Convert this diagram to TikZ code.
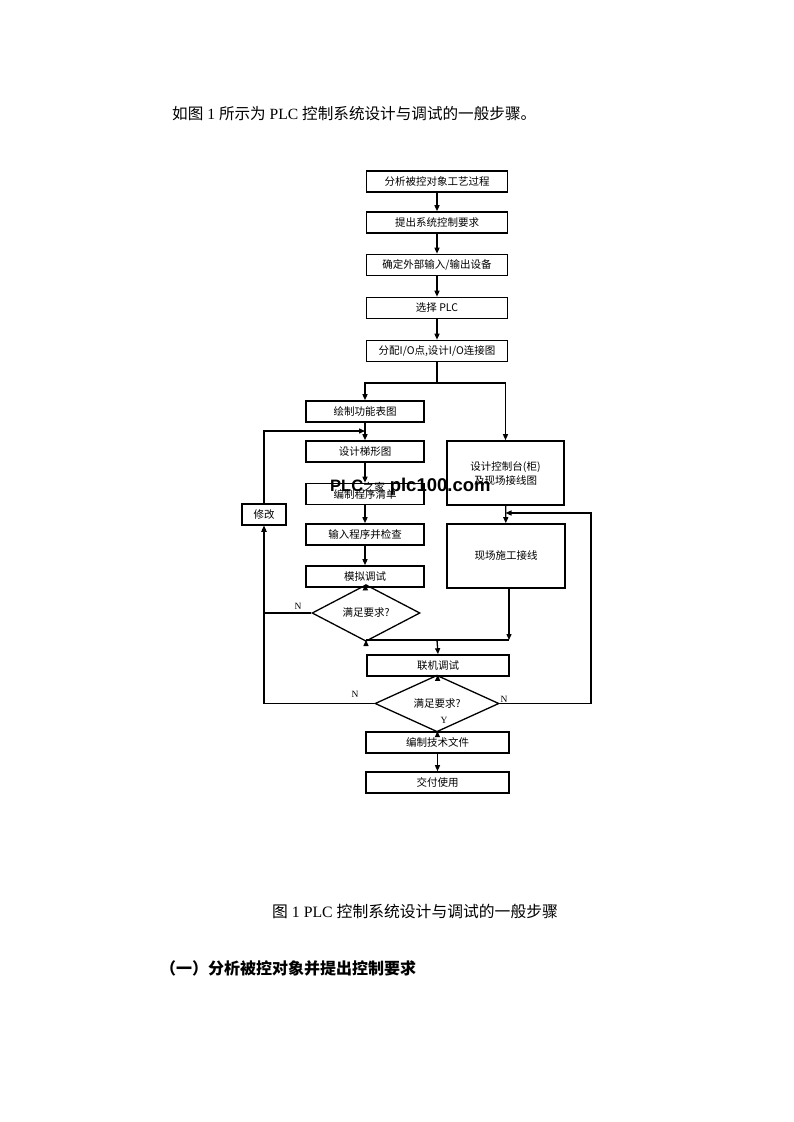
\documentclass[tikz,border=0pt]{standalone}
\usepackage{fontspec}
\setmainfont{Liberation Serif}
\newfontfamily\cjk{Noto Sans CJK SC}
\newfontfamily\wm{Liberation Sans}
\usetikzlibrary{arrows.meta,shapes.geometric}
\begin{document}
\begin{tikzpicture}[x=1pt,y=-1pt,
  box/.style={draw,line width=1.6pt,inner sep=0pt,minimum height=21pt,align=center,font=\cjk\fontsize{10.5}{14}\selectfont},
  dia/.style={diamond,draw,line width=1.3pt,inner sep=0pt,font=\cjk\fontsize{10.5}{12}\selectfont},
  line/.style={line width=1.3pt},
  arr/.style={line width=1.3pt,-{Triangle[length=6pt,width=5pt]}},
  lab/.style={inner sep=0pt,font=\fontsize{9.5}{10}\selectfont},
  txt/.style={inner sep=0pt,anchor=west}]
\fill[white] (0,0) rectangle (793,1122);
\useasboundingbox (0,0) rectangle (793,1122);

% texts
\node[txt,font=\fontsize{15.6}{18}\selectfont] (t1) at (172,114) {{\cjk 如图} 1 {\cjk 所示为} PLC {\cjk 控制系统设计与调试的一般步骤。}};
\node[txt,font=\fontsize{15.8}{18}\selectfont] (cap) at (272,911) {{\cjk 图} 1 PLC {\cjk 控制系统设计与调试的一般步骤}};
\node[txt,font=\cjk\bfseries\fontsize{16}{18}\selectfont] (h1) at (160,968) {（一）分析被控对象并提出控制要求};

% main column
\node[box,minimum width=141pt] (b1) at (437,181.5) {分析被控对象工艺过程};
\node[box,minimum width=141pt] (b2) at (437,222.5) {提出系统控制要求};
\node[box,minimum width=141pt] (b3) at (437,265) {确定外部输入/输出设备};
\node[box,minimum width=141pt] (b4) at (437,308) {选择 PLC};
\node[box,minimum width=141pt] (b5) at (437,351) {分配I/O点,设计I/O连接图};

% left column
\node[box,minimum width=118pt] (l1) at (365,411.5) {绘制功能表图};
\node[box,minimum width=118pt] (l2) at (365,451.5) {设计梯形图};
\node[box,minimum width=118pt] (l3) at (365,494) {编制程序清单};
\node[box,minimum width=118pt] (l4) at (365,534.5) {输入程序并检查};
\node[box,minimum width=118pt] (l5) at (365,576.5) {模拟调试};
\node[dia,minimum width=108pt,minimum height=30pt] (d1) at (366,613) {满足要求?};
\node[box,minimum width=44pt] (mod) at (264,514.5) {修改};

% right column
\node[box,minimum width=117pt,minimum height=64pt] (r1) at (505.5,473) {设计控制台(柜)\\及现场接线图};
\node[box,minimum width=118pt,minimum height=64pt] (r2) at (506,556) {现场施工接线};

% bottom
\node[box,minimum width=142pt] (lj) at (438,665.5) {联机调试};
\node[dia,minimum width=124pt,minimum height=27pt] (d2) at (437,703.5) {满足要求?};
\node[box,minimum width=143pt] (doc) at (437.5,742.5) {编制技术文件};
\node[box,minimum width=143pt] (del) at (437.5,782.5) {交付使用};

% watermark
\node[inner sep=0pt,anchor=base west,font=\wm\bfseries\fontsize{16.5}{16}\selectfont] (wmk) at (330,491)
  {PLC{\cjk\mdseries\fontsize{11}{11}\selectfont 之家} \fontsize{18.5}{18}\selectfont plc100.com};

% connectors
\draw[arr] (b1) -- (b2);
\draw[arr] (b2) -- (b3);
\draw[arr] (b3) -- (b4);
\draw[arr] (b4) -- (b5);
\coordinate (s) at (437,383);
\draw[line] (b5.south) -- (s);
\draw[arr] (s) -| (l1.north);
\draw[arr] (s) -| (r1.north);
\coordinate (m) at (365,431);
\draw[arr] (l1) -- (l2);
\draw[arr] (mod.north) |- (m);
\draw[arr] (l2) -- (l3);
\draw[arr] (l3) -- (l4);
\draw[arr] (l4) -- (l5);
\draw[arr] (l5) -- (d1);
\draw[arr] (d1.west) -| (mod.south);
\node[lab] (n1) at (298,606) {N};
\coordinate (jl) at (366,640);
\coordinate (jr) at (509,640);
\coordinate (j) at (437,640);
\draw[arr] (d1.south) -- (jl);
\draw[arr] (r2.south -| jr) -- (jr);
\draw[line] (jl) -- (jr);
\draw[arr] (j) -- (lj.north);
\draw[arr] (lj) -- (d2);
\draw[arr] (d2.west) -| (mod.south);
\node[lab] (n2) at (355,694) {N};
\coordinate (fb) at (591,513);
\draw[arr] (r1) -- (r2);
\draw[arr] (d2.east) -| (fb) -- (r1.south |- fb);
\node[lab] (n3) at (504,699) {N};
\draw[arr] (d2) -- (doc);
\node[lab] (y1) at (444,720) {Y};
\draw[arr] (doc) -- (del);
\end{tikzpicture}
\end{document}
